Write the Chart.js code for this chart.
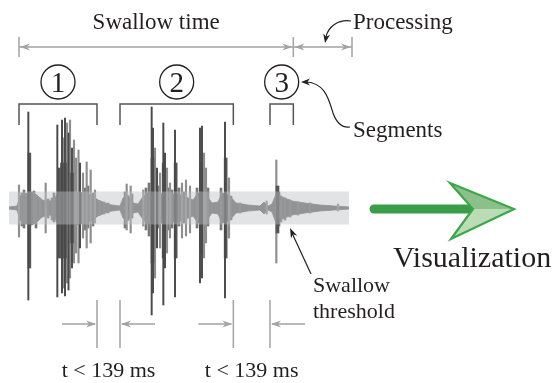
<!DOCTYPE html>
<html>
<head>
<meta charset="utf-8">
<script src="https://cdn.jsdelivr.net/npm/chart.js@4/dist/chart.umd.min.js"></script>
<style>
  html, body { margin: 0; padding: 0; background: #fff; }
</style>
</head>
<body>
<canvas id="wave" width="555" height="383"></canvas>
<script>
// time in ms, amplitude in arbitrary units
const timeMax = 2040;
const threshold = 0.165;

// segments found by the detector
const segLabels = ["1", "2", "3"];
const segStart = [60, 666, 1566];
const segEnd = [528, 1346, 1706];
const gapLabel = "t < 139 ms";

// background envelope of the signal
const envT = [0, 48, 66, 96, 138, 174, 198, 246, 276, 294, 336, 396, 456, 498, 534, 576, 618, 666,
  684, 714, 744, 774, 798, 828, 876, 918, 966, 1014, 1062, 1104, 1134, 1176, 1218, 1254, 1278,
  1326, 1362, 1434, 1506, 1530, 1554, 1578, 1602, 1638, 1698, 1776, 1866, 1956, 2040];
const envHi = [0.01, 0.02, 0.12, 0.14, 0.16, 0.12, 0.08, 0.07, 0.10, 0.16, 0.17, 0.16, 0.15, 0.13,
  0.08, 0.05, 0.03, 0.02, 0.10, 0.13, 0.05, 0.04, 0.10, 0.15, 0.16, 0.14, 0.13, 0.14, 0.11, 0.08,
  0.15, 0.15, 0.05, 0.06, 0.15, 0.12, 0.05, 0.03, 0.02, 0.06, 0.02, 0.04, 0.14, 0.11, 0.07, 0.05,
  0.03, 0.02, 0.01];
const envLo = [-0.01, -0.02, -0.12, -0.15, -0.17, -0.13, -0.09, -0.07, -0.10, -0.17, -0.18, -0.17,
  -0.15, -0.13, -0.08, -0.05, -0.03, -0.02, -0.10, -0.13, -0.05, -0.04, -0.10, -0.16, -0.16, -0.15,
  -0.13, -0.14, -0.11, -0.08, -0.15, -0.15, -0.05, -0.06, -0.15, -0.12, -0.05, -0.03, -0.02, -0.06,
  -0.02, -0.04, -0.15, -0.11, -0.07, -0.05, -0.03, -0.02, -0.01];

// small bursts inside the envelope
const noiseT = [78, 90, 102, 150, 162, 186, 234, 258, 270, 456, 474, 504, 546, 570, 594, 696, 738,
  822, 840, 894, 954, 978, 1020, 1050, 1128, 1194, 1272, 1332, 1386, 1620, 1632, 1656, 1686, 1734, 1806];
const noiseHi = [0.15, 0.18, 0.14, 0.17, 0.13, 0.10, 0.09, 0.10, 0.15, 0.20, 0.22, 0.15, 0.07, 0.06,
  0.05, 0.16, 0.14, 0.20, 0.25, 0.22, 0.20, 0.18, 0.20, 0.16, 0.20, 0.20, 0.20, 0.12, 0.05, 0.16,
  0.12, 0.10, 0.08, 0.06, 0.05];
const noiseLo = [-0.18, -0.20, -0.16, -0.15, -0.20, -0.10, -0.10, -0.12, -0.14, -0.22, -0.20, -0.18,
  -0.07, -0.06, -0.05, -0.20, -0.10, -0.22, -0.28, -0.20, -0.22, -0.20, -0.18, -0.15, -0.20, -0.18,
  -0.22, -0.12, -0.05, -0.18, -0.14, -0.12, -0.09, -0.07, -0.05];

// tall dark spikes
const darkT = [116, 290, 318, 336, 357, 378, 426, 856, 864, 888, 926, 936, 996, 1146, 1158, 1296];
const darkHi = [0.96, 0.83, 0.88, 0.90, 0.75, 0.60, 0.45, 1.01, 0.80, 0.40, 0.85, 0.55, 0.78, 0.80, 0.82, 0.86];
const darkLo = [-0.92, -0.89, -0.85, -0.88, -0.82, -0.60, -0.40, -1.07, -0.85, -0.40, -0.97, -0.60, -0.89, -0.75, -0.70, -0.90];

// thicker cores of the bursts
const coreT = [122, 300, 318, 336, 378, 861, 928, 1000, 1152, 1300, 1611];
const coreHi = [0.55, 0.40, 0.45, 0.45, 0.35, 0.50, 0.45, 0.45, 0.45, 0.50, 0.22];
const coreLo = [-0.60, -0.50, -0.50, -0.50, -0.35, -0.55, -0.50, -0.50, -0.45, -0.50, -0.25];

// lighter spikes
const lightT = [60, 220, 327, 348, 366, 390, 402, 417, 444, 466, 490, 516, 706, 730, 806, 876, 906,
  948, 966, 1038, 1062, 1086, 1170, 1182, 1320, 1546, 1604, 1974];
const lightHi = [0.23, 0.25, 0.70, 0.85, 0.88, 0.68, 0.50, 0.58, 0.35, 0.46, 0.38, 0.18, 0.24, 0.22,
  0.18, 0.60, 0.35, 0.40, 0.25, 0.25, 0.28, 0.22, 0.55, 0.40, 0.30, 0.07, 0.48, 0.04];
const lightLo = [-0.29, -0.25, -0.80, -0.75, -0.70, -0.55, -0.45, -0.55, -0.30, -0.40, -0.35, -0.15,
  -0.22, -0.25, -0.18, -0.70, -0.40, -0.45, -0.30, -0.30, -0.28, -0.25, -0.50, -0.35, -0.30, -0.06,
  -0.55, -0.03];

const serif = "'Liberation Serif', 'Times New Roman', serif";
const textColor = "#231f20";
const guideGrey = "#a3a3a3";

function spikes(t, hi, lo) {
  return t.map((x, i) => ({ x: x, y: [lo[i], hi[i]] }));
}
function line(t, v) {
  return t.map((x, i) => ({ x: x, y: v[i] }));
}

function arrowHead(ctx, x, y, angle, len, half) {
  ctx.save();
  ctx.translate(x, y);
  ctx.rotate(angle);
  ctx.beginPath();
  ctx.moveTo(0, 0);
  ctx.lineTo(-len, -half);
  ctx.lineTo(-len * 0.7, 0);
  ctx.lineTo(-len, half);
  ctx.closePath();
  ctx.fill();
  ctx.restore();
}

const annotations = {
  id: "annotations",
  afterDatasetsDraw(chart) {
    // swallow threshold band over the signal
    const { ctx, scales: { x, y } } = chart;
    const top = y.getPixelForValue(threshold);
    const bottom = y.getPixelForValue(-threshold);
    ctx.save();
    ctx.fillStyle = "rgba(190,192,196,0.45)";
    ctx.fillRect(x.left, top, x.right - x.left, bottom - top);
    ctx.restore();
  },
  afterDraw(chart) {
    const { ctx, scales: { x } } = chart;
    const px = (t) => x.getPixelForValue(t);
    ctx.save();

    // brackets and circled numbers
    ctx.strokeStyle = "#555";
    ctx.lineWidth = 1.5;
    segStart.forEach((s, i) => {
      const x1 = px(s), x2 = px(segEnd[i]);
      ctx.beginPath();
      ctx.moveTo(x1, 125);
      ctx.lineTo(x1, 104);
      ctx.lineTo(x2, 104);
      ctx.lineTo(x2, 125);
      ctx.stroke();

      const cx = (x1 + x2) / 2, cy = 82;
      ctx.save();
      ctx.strokeStyle = textColor;
      ctx.lineWidth = 1.3;
      ctx.beginPath();
      ctx.arc(cx, cy, 17, 0, Math.PI * 2);
      ctx.stroke();
      ctx.fillStyle = textColor;
      ctx.font = "29px " + serif;
      ctx.textAlign = "center";
      ctx.textBaseline = "alphabetic";
      ctx.fillText(segLabels[i], cx, cy + 10);
      ctx.restore();
    });

    // swallow time / processing arrows
    ctx.strokeStyle = guideGrey;
    ctx.fillStyle = guideGrey;
    ctx.lineWidth = 1.5;
    const a0 = px(segStart[0]), a1 = px(segEnd[2]), a2 = x.right + 3;
    const ay = 47;
    ctx.beginPath();
    ctx.moveTo(a0, ay); ctx.lineTo(a1, ay);
    ctx.moveTo(a1, ay); ctx.lineTo(a2, ay);
    [a0, a1, a2].forEach((v) => { ctx.moveTo(v, 37); ctx.lineTo(v, 57); });
    ctx.stroke();
    arrowHead(ctx, a0 + 1, ay, Math.PI, 10, 3.5);
    arrowHead(ctx, a1 - 1, ay, 0, 10, 3.5);
    arrowHead(ctx, a1 + 1, ay, Math.PI, 10, 3.5);
    arrowHead(ctx, a2 - 1, ay, 0, 10, 3.5);

    // gap markers under the signal
    const gy = 324;
    [[segEnd[0], segStart[1]], [segEnd[1], segStart[2]]].forEach(([g0, g1]) => {
      const x0 = px(g0), x1 = px(g1);
      ctx.beginPath();
      ctx.moveTo(x0, 300); ctx.lineTo(x0, 348);
      ctx.moveTo(x1, 300); ctx.lineTo(x1, 348);
      ctx.moveTo(x0 - 35, gy); ctx.lineTo(x0 - 2, gy);
      ctx.moveTo(x1 + 35, gy); ctx.lineTo(x1 + 2, gy);
      ctx.stroke();
      arrowHead(ctx, x0 - 1, gy, 0, 10, 3.5);
      arrowHead(ctx, x1 + 1, gy, Math.PI, 10, 3.5);
      ctx.save();
      ctx.fillStyle = textColor;
      ctx.font = "22px " + serif;
      ctx.textAlign = "center";
      ctx.fillText(gapLabel, (x0 + x1) / 2, 377);
      ctx.restore();
    });

    // labels
    ctx.fillStyle = textColor;
    ctx.font = "23px " + serif;
    ctx.textAlign = "center";
    ctx.fillText("Swallow time", (a0 + a1) / 2, 29);
    ctx.textAlign = "left";
    ctx.fillText("Processing", 353, 29);
    ctx.fillText("Segments", 353, 137);
    ctx.font = "22px " + serif;
    ctx.fillText("Swallow", 313, 292);
    ctx.fillText("threshold", 313, 318);
    ctx.font = "30px " + serif;
    ctx.fillText("Visualization", 393, 267);

    // black pointer curves
    ctx.strokeStyle = textColor;
    ctx.lineWidth = 1.2;
    ctx.beginPath();
    ctx.moveTo(351, 21);
    ctx.bezierCurveTo(338, 19, 328, 27, 326, 37);
    ctx.stroke();
    arrowHead(ctx, 325, 43, Math.PI * 0.56, 9, 3.5);

    ctx.beginPath();
    ctx.moveTo(305, 82);
    ctx.bezierCurveTo(325, 82, 329, 100, 333, 113);
    ctx.bezierCurveTo(337, 124, 343, 128, 350, 127);
    ctx.stroke();
    arrowHead(ctx, 301, 82, Math.PI, 9, 3.5);

    ctx.beginPath();
    ctx.moveTo(311, 274);
    ctx.lineTo(292, 233);
    ctx.stroke();
    arrowHead(ctx, 290, 228, Math.atan2(228 - 274, 290 - 311), 10, 3.5);

    // green arrow to the visualization
    ctx.strokeStyle = "#3a9d47";
    ctx.lineWidth = 9;
    ctx.lineCap = "round";
    ctx.beginPath();
    ctx.moveTo(374, 209);
    ctx.lineTo(468, 209);
    ctx.stroke();
    ctx.lineCap = "butt";
    ctx.lineJoin = "miter";
    ctx.fillStyle = "#8cc08a";
    ctx.beginPath();
    ctx.moveTo(450, 183); ctx.lineTo(514, 209); ctx.lineTo(473, 209); ctx.closePath();
    ctx.fill();
    ctx.fillStyle = "#bcdcb6";
    ctx.beginPath();
    ctx.moveTo(451, 239); ctx.lineTo(514, 209); ctx.lineTo(473, 209); ctx.closePath();
    ctx.fill();
    ctx.strokeStyle = "#3aa84a";
    ctx.lineWidth = 2.2;
    ctx.beginPath();
    ctx.moveTo(450, 183); ctx.lineTo(514, 209); ctx.lineTo(451, 239); ctx.lineTo(473, 209);
    ctx.closePath();
    ctx.stroke();

    ctx.restore();
  },
};

new Chart(document.getElementById("wave"), {
  type: "bar",
  data: {
    datasets: [
      {
        type: "line",
        data: line(envT, envHi),
        borderColor: "#6e6e6e",
        borderWidth: 0.8,
        pointRadius: 0,
        fill: false,
        order: 6,
      },
      {
        type: "line",
        data: line(envT, envLo),
        borderColor: "#6e6e6e",
        backgroundColor: "#6e6e6e",
        borderWidth: 0.8,
        pointRadius: 0,
        fill: "-1",
        order: 5,
      },
      {
        data: spikes(noiseT, noiseHi, noiseLo),
        backgroundColor: "#777777",
        barThickness: 2,
        grouped: false,
        order: 4,
      },
      {
        data: spikes(lightT, lightHi, lightLo),
        backgroundColor: "#8e8e8e",
        barThickness: 1.5,
        grouped: false,
        order: 3,
      },
      {
        data: spikes(coreT, coreHi, coreLo),
        backgroundColor: "#555555",
        barThickness: 3,
        grouped: false,
        order: 2,
      },
      {
        data: spikes(darkT, darkHi, darkLo),
        backgroundColor: "#4a4a4a",
        barThickness: 1.3,
        grouped: false,
        order: 1,
      },
    ],
  },
  options: {
    responsive: false,
    animation: false,
    layout: { padding: { left: 9, right: 206, top: 98, bottom: 65 } },
    scales: {
      x: { type: "linear", min: 0, max: timeMax, offset: false, display: false },
      y: { min: -1.1, max: 1.1, display: false },
    },
    plugins: {
      legend: { display: false },
      tooltip: { enabled: false },
    },
  },
  plugins: [annotations],
});
</script>
</body>
</html>
